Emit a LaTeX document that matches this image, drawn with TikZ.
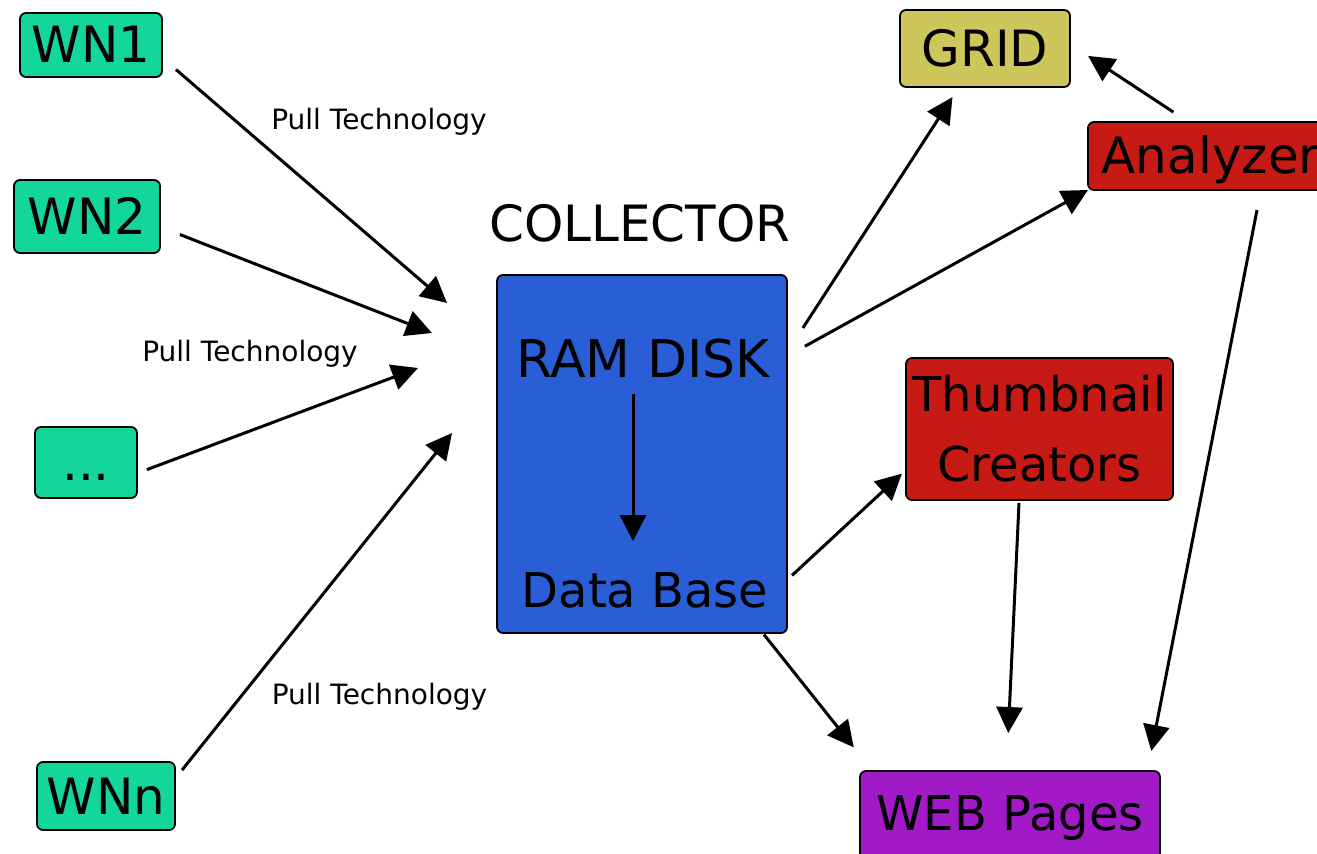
\documentclass[tikz,border=0pt]{standalone}
\usepackage{fontspec}
\setmainfont{DejaVu Sans}
\usetikzlibrary{arrows.meta}
\definecolor{worker}{HTML}{12D69A}
\definecolor{collect}{HTML}{2A5ED6}
\definecolor{gridcol}{HTML}{CDC65A}
\definecolor{proc}{HTML}{C81A14}
\definecolor{webcol}{HTML}{A21AC8}

\begin{document}
\begin{tikzpicture}[x=0.5pt,y=-0.5pt,
  box/.style={draw=black,line width=0.9pt,rounded corners=3pt,inner sep=0pt,outer sep=0pt,
    font=\fontsize{25}{30}\selectfont},
  capbox/.style={box,text height=18pt,text depth=0pt},
  flow/.style={line width=1.5pt,-{Triangle[length=13pt,width=13pt]}},
  pull/.style={font=\fontsize{14}{17}\selectfont,anchor=base}]
  \useasboundingbox (0,0) rectangle (1317,854);
  \fill[white] (0,0) rectangle (1317,854);
  % worker nodes
  \node[capbox,fill=worker,minimum width=71pt,minimum height=32pt] (wn1) at (91,45) {WN1};
  \node[capbox,fill=worker,minimum width=73pt,minimum height=36.5pt] (wn2) at (87,216.5) {WN2};
  \node[capbox,fill=worker,minimum width=51pt,minimum height=35.5pt] (wndots) at (86,462.5) {...};
  \node[capbox,fill=worker,minimum width=69pt,minimum height=34pt] (wnn) at (106,796) {WNn};
  % collector
  \node[font=\fontsize{25}{30}\selectfont] (colltitle) at (640,223) {COLLECTOR};
  \node[box,fill=collect,minimum width=145pt,minimum height=179pt] (coll) at (642,454) {};
  \node[font=\fontsize{26}{30}\selectfont] (ram) at (643,359) {RAM DISK};
  \node[font=\fontsize{24}{30}\selectfont] (db) at (645,590) {Data Base};
  \draw[flow,shorten <=4pt,shorten >=12pt] ([xshift=-5pt]ram.south) -- ([xshift=-6pt]db.north);
  % consumers
  \node[capbox,fill=gridcol,minimum width=85pt,minimum height=38.5pt] (grid) at (985,48.5) {GRID};
  \node[capbox,fill=proc,minimum width=122.5pt,minimum height=34pt] (ana) at (1210.5,156) {Analyzer};
  \node[box,fill=proc,align=center,font=\fontsize{24}{35}\selectfont,
    minimum width=133.5pt,minimum height=71pt] (thumb) at (1039.5,429) {Thumbnail\\Creators};
  \node[box,fill=webcol,font=\fontsize{24}{30}\selectfont,text height=17.5pt,text depth=8.5pt,
    minimum width=150pt,minimum height=50pt] (web) at (1010,821) {WEB Pages};
  % pull arrows into the collector
  \coordinate (in1) at (447,303);
  \coordinate (in2) at (432,333);
  \coordinate (in3) at (418,368);
  \coordinate (in4) at (452,433);
  \draw[flow,shorten <=9.2pt] (wn1.-10.4) -- (in1);
  \draw[flow,shorten <=10.7pt] (wn2.-8.3) -- (in2);
  \draw[flow,shorten <=5.3pt] (wndots.-12.5) -- (in3);
  \draw[flow,shorten <=5.6pt] (wnn.14.1) -- (in4);
  \node[pull] (pull1) at (379,130) {Pull Technology};
  \node[pull] (pull2) at (250,362) {Pull Technology};
  \node[pull] (pull3) at (379.5,705) {Pull Technology};
  % outgoing arrows
  \draw[flow,shorten <=14.6pt,shorten >=6pt] (coll.35.8) -- (grid.-124.5);
  \draw[flow,shorten <=10.2pt] (coll.34.4) -- (ana.south west);
  \draw[flow,shorten <=9pt,shorten >=10.8pt] (ana.123.5) -- (grid.3.7);
  \draw[flow,shorten <=3.4pt,shorten >=2.8pt] (coll.-41.4) -- (thumb.-163.2);
  \draw[flow,shorten <=1pt,shorten >=15.1pt] (coll.-56.5) -- (web.160.8);
  \draw[flow,shorten <=1.5pt,shorten >=19pt] (thumb.-106.8) -- (web.94.2);
  \draw[flow,shorten <=10.2pt,shorten >=10.2pt] (ana.-34.5) -- (web.20.2);
\end{tikzpicture}
\end{document}
